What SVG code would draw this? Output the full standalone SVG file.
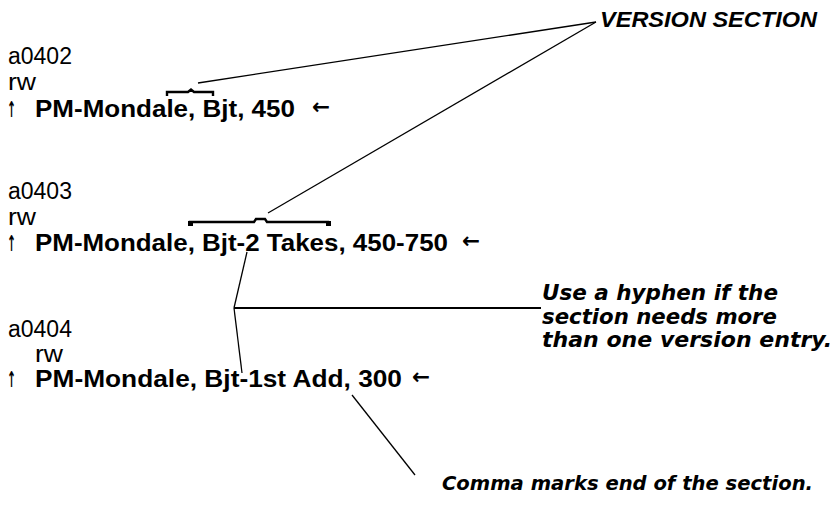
<svg xmlns="http://www.w3.org/2000/svg" width="834" height="506" viewBox="0 0 834 506">
<style>
.reg{font-family:"Liberation Sans",Arial,sans-serif;font-size:23px;fill:#000}
.bold{font-family:"Liberation Sans",Arial,sans-serif;font-size:24px;font-weight:bold;fill:#000}
.arr{font-family:"DejaVu Sans",sans-serif;font-size:22px;font-weight:bold;fill:#000}
.note{font-family:"DejaVu Sans","Liberation Sans",sans-serif;font-weight:bold;font-style:italic;fill:#000}
.ln{stroke:#000;stroke-width:1.3;fill:none}
.br{stroke:#000;stroke-width:2.4;fill:none}
</style>
<rect width="834" height="506" fill="#fff"/>
<g id="entry-a0402">
<text class="reg" x="8" y="64">a0402</text>
<text class="reg" x="8" y="90" textLength="28" lengthAdjust="spacingAndGlyphs">rw</text>
<text class="arr" x="7" y="117" textLength="9" lengthAdjust="spacingAndGlyphs">↑</text>
<text class="bold" x="35" y="117" textLength="260" lengthAdjust="spacingAndGlyphs">PM-Mondale, Bjt, 450</text>
<text class="arr" x="312" y="114" textLength="18" lengthAdjust="spacingAndGlyphs">←</text>
</g>
<g id="entry-a0403">
<text class="reg" x="8" y="199">a0403</text>
<text class="reg" x="8" y="225" textLength="28" lengthAdjust="spacingAndGlyphs">rw</text>
<text class="arr" x="7" y="251" textLength="9" lengthAdjust="spacingAndGlyphs">↑</text>
<text class="bold" x="35" y="251" textLength="413" lengthAdjust="spacingAndGlyphs">PM-Mondale, Bjt-2 Takes, 450-750</text>
<text class="arr" x="462" y="248" textLength="18" lengthAdjust="spacingAndGlyphs">←</text>
</g>
<g id="entry-a0404">
<text class="reg" x="8" y="337">a0404</text>
<text class="reg" x="35" y="362" textLength="28" lengthAdjust="spacingAndGlyphs">rw</text>
<text class="arr" x="7" y="387" textLength="9" lengthAdjust="spacingAndGlyphs">↑</text>
<text class="bold" x="35" y="387" textLength="367" lengthAdjust="spacingAndGlyphs">PM-Mondale, Bjt-1st Add, 300</text>
<text class="arr" x="412" y="384" textLength="18" lengthAdjust="spacingAndGlyphs">←</text>
</g>
<g id="label-version">
<text x="600" y="27" font-family="Liberation Sans, Arial, sans-serif" font-weight="bold" font-style="italic" font-size="22" textLength="217" lengthAdjust="spacingAndGlyphs">VERSION SECTION</text>
</g>
<g id="label-hyphen">
<text class="note" x="542" y="300" font-size="22" textLength="236" lengthAdjust="spacingAndGlyphs">Use a hyphen if the</text>
<text class="note" x="542" y="323.5" font-size="22" textLength="235" lengthAdjust="spacingAndGlyphs">section needs more</text>
<text class="note" x="542" y="347" font-size="22" textLength="290" lengthAdjust="spacingAndGlyphs">than one version entry.</text>
</g>
<g id="label-comma">
<text class="note" x="442" y="490" font-size="19.5" textLength="371" lengthAdjust="spacingAndGlyphs">Comma marks end of the section.</text>
</g>
<g id="connectors">
<path class="br" d="M167,96 L167,92 L188,92 L191,89.5 L194,92 L213,92 L213,96" stroke-width="2"/>
<path class="br" d="M190,225 L190,222 L254,222 L256,219 L265,219 L267,222 L328,222 L328,225"/>
<rect x="188" y="221" width="5" height="5"/>
<rect x="326" y="221" width="5" height="5"/>
<line class="ln" x1="198" y1="83" x2="596" y2="22"/>
<line class="ln" x1="268" y1="213" x2="596" y2="22"/>
<line class="ln" x1="247" y1="252" x2="234" y2="308"/>
<line x1="234" y1="308" x2="541" y2="308" stroke="#000" stroke-width="2"/>
<line class="ln" x1="234" y1="308" x2="242" y2="373"/>
<line class="ln" x1="352" y1="395" x2="415" y2="475"/>
</g>
</svg>
